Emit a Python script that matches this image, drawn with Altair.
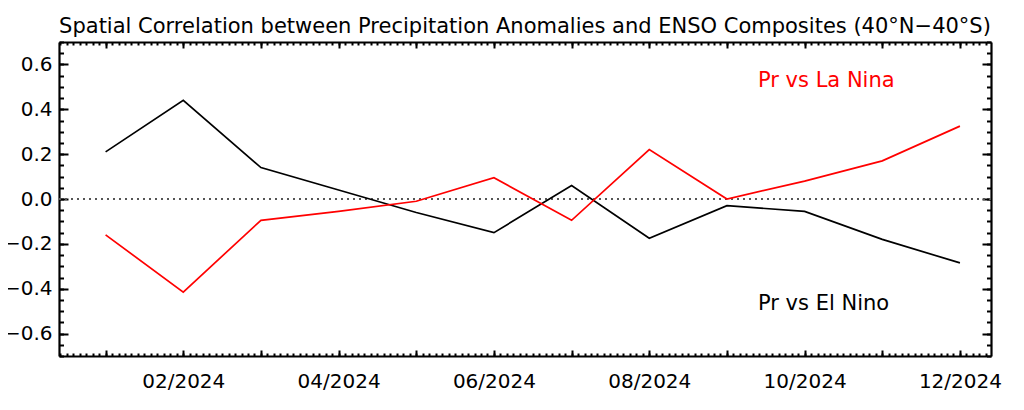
import altair as alt
import pandas as pd

# ---- data ----
months = [1, 2, 3, 4, 5, 6, 7, 8, 9, 10, 11, 12]
el_nino = [0.21, 0.44, 0.14, 0.04, -0.06, -0.15, 0.06, -0.175, -0.03, -0.055, -0.18, -0.285]
la_nina = [-0.16, -0.415, -0.095, -0.055, -0.01, 0.095, -0.095, 0.22, 0.0, 0.08, 0.17, 0.325]
series_names = ["Pr vs El Nino", "Pr vs La Nina"]
series_colors = ["#000000", "#ff0000"]
label_months = [2, 4, 6, 8, 10, 12]
tick_labels = ["02/2024", "04/2024", "06/2024", "08/2024", "10/2024", "12/2024"]
y_ticks = [-0.6, -0.4, -0.2, 0.0, 0.2, 0.4, 0.6]
annot_text = ["Pr vs La Nina", "Pr vs El Nino"]
annot_x = [9.4, 9.4]
annot_y = [0.525, -0.47]
annot_color = ["#ff0000", "#000000"]
title_text = "Spatial Correlation between Precipitation Anomalies and ENSO Composites (40°N\u221240°S)"

W, H = 932, 314
FONT = "DejaVu Sans"

df = pd.DataFrame({
    "month": months + months,
    "value": el_nino + la_nina,
    "series": [series_names[0]] * 12 + [series_names[1]] * 12,
})
annot_df = pd.DataFrame({"x": annot_x, "y": annot_y, "text": annot_text, "c": annot_color})

xs = alt.Scale(domain=[0.4, 12.4], nice=False, zero=False)
ys = alt.Scale(domain=[-0.7, 0.7], nice=False, zero=False)

x_minor = [round(1 + k / 12, 5) for k in range(-7, 137)]
y_minor = [round(-0.7 + 0.05 * i, 3) for i in range(29)]

label_expr = "[" + ",".join("'%s'" % t for t in tick_labels) + "][indexof([" + \
    ",".join(str(m) for m in label_months) + "], datum.value)]"

x_label_axis = alt.Axis(orient="bottom", values=label_months, labelExpr=label_expr,
                        ticks=False, tickSize=0, labelFontSize=20, labelFont=FONT,
                        labelColor="black", labelPadding=15, labelFlush=False,
                        labelOverlap=False, domain=False, grid=False, title=None)
y_label_axis = alt.Axis(orient="left", values=y_ticks, format=".1f", ticks=False,
                        tickSize=0, labelFontSize=20, labelFont=FONT, labelColor="black",
                        labelPadding=7, labelFlush=False, labelOverlap=False,
                        domain=False, grid=False, title=None)


def tick_axis(orient, offset, values, size, domain):
    return alt.Axis(orient=orient, offset=offset, values=values, tickSize=size,
                    tickWidth=2, tickColor="black", labels=False, grid=False, title=None,
                    domain=domain, domainColor="black", domainWidth=2.2)


def axis_layer(xaxis, yaxis):
    return alt.Chart(df).mark_point(opacity=0).encode(
        x=alt.X("month:Q", scale=xs, axis=xaxis),
        y=alt.Y("value:Q", scale=ys, axis=yaxis),
    )


lines = alt.Chart(df).mark_line(strokeWidth=1.7).encode(
    x=alt.X("month:Q", scale=xs, axis=x_label_axis),
    y=alt.Y("value:Q", scale=ys, axis=y_label_axis),
    color=alt.Color("series:N", scale=alt.Scale(domain=series_names, range=series_colors), legend=None),
)

zero = alt.Chart(pd.DataFrame({"zero": [0.0]})).mark_rule(
    strokeDash=[2, 4], color="#555555", strokeWidth=2
).encode(y=alt.Y("zero:Q", scale=ys, axis=None))

annot = alt.Chart(annot_df).mark_text(align="left", baseline="middle", fontSize=21, font=FONT).encode(
    x=alt.X("x:Q", scale=xs, axis=None),
    y=alt.Y("y:Q", scale=ys, axis=None),
    text="text:N",
    color=alt.Color("c:N", scale=None, legend=None),
)

layers = [
    zero,
    lines,
    # bottom & left inward ticks
    axis_layer(tick_axis("top", -H, months, 6, True), tick_axis("right", -W, y_ticks, 9, True)),
    axis_layer(tick_axis("top", -H, x_minor, 3, False), tick_axis("right", -W, y_minor, 4.5, False)),
    # top & right inward ticks
    axis_layer(tick_axis("bottom", -H, months, 6, True), tick_axis("left", -W, y_ticks, 9, True)),
    axis_layer(tick_axis("bottom", -H, x_minor, 3, False), tick_axis("left", -W, y_minor, 4.5, False)),
    annot,
]

chart = alt.layer(*layers).resolve_axis(x="independent", y="independent").properties(
    width=W,
    height=H,
    autosize=alt.AutoSizeParams(type="none"),
    padding={"left": 51, "top": 34, "right": 25, "bottom": 46},
    title=alt.TitleParams(title_text, fontSize=21, font=FONT, fontWeight="normal",
                          color="black", anchor="middle", offset=4),
).configure_view(stroke="black", strokeWidth=2).configure(background="white")

chart.save("out.html", embed_options={"renderer": "svg", "actions": False})
